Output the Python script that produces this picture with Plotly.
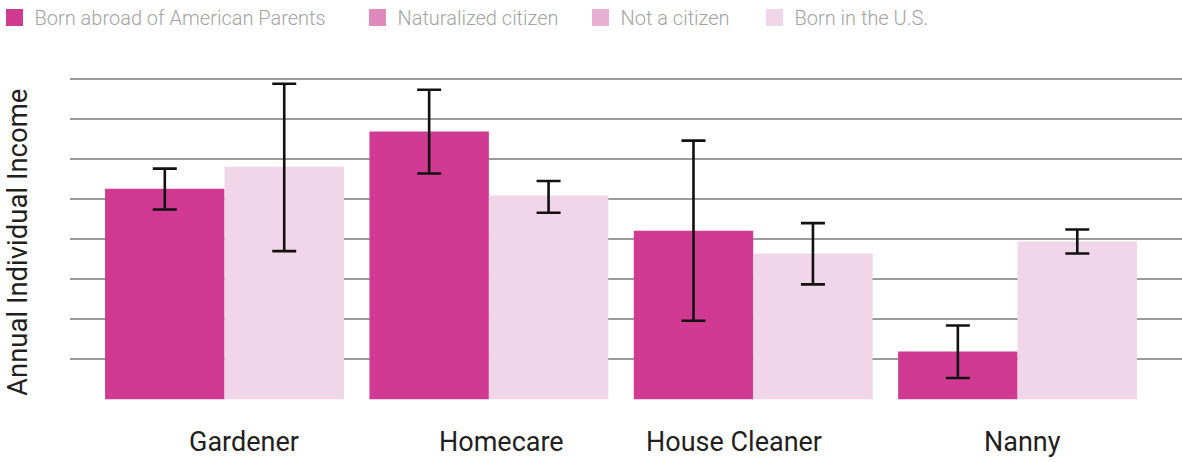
import plotly.graph_objects as go

# ---- data (y in chart units, no tick labels shown) ----
categories = ["Gardener", "Homecare", "House Cleaner", "Nanny"]

born_abroad = [5.26, 6.69, 4.21, 1.19]
born_abroad_hi = [5.76, 7.73, 6.46, 1.84]
born_abroad_lo = [4.74, 5.64, 1.96, 0.53]

born_us = [5.81, 5.09, 3.64, 3.94]
born_us_hi = [7.88, 5.45, 4.40, 4.24]
born_us_lo = [3.70, 4.66, 2.87, 3.64]

naturalized = [None, None, None, None]
not_citizen = [None, None, None, None]

series_names = ["Born abroad of American Parents", "Naturalized citizen",
                "Not a citizen", "Born in the U.S."]

# ---- style ----
colors = ["#D03A92", "#DE8BBC", "#E8B1D3", "#F0D6E8"]
FONT = "Roboto, 'Open Sans', sans-serif"
W, H = 1182, 462
L, R, T, B = 70, 0, 75, 62
PLOT_W = W - L - R
legend_px = [6, 369, 592, 766]   # left edge of each legend square (px)
legend_sym_off = 11.5
label_shift = [19.5, 12.5, -19, 4.5]
bar_w = 0.4518
bar_off_abroad = -0.4518
bar_off_us = 0.0

err_style = dict(type="data", color="#111111", thickness=2.6, width=12, symmetric=False)
legend_ids = ["legend", "legend2", "legend3", "legend4"]
groups = ["abroad", "naturalized", "notcitizen", "us"]

fig = go.Figure()

# data bars (legend entries come from the matching legend group below)
fig.add_trace(go.Bar(
    x=categories, y=born_abroad, name=series_names[0],
    marker=dict(color=colors[0], line=dict(width=0)),
    width=bar_w, offset=bar_off_abroad,
    error_y=dict(array=[h - v for h, v in zip(born_abroad_hi, born_abroad)],
                 arrayminus=[v - l for v, l in zip(born_abroad, born_abroad_lo)],
                 **err_style),
    legendgroup=groups[0], showlegend=False, legend=legend_ids[0],
))
fig.add_trace(go.Bar(
    x=categories, y=born_us, name=series_names[3],
    marker=dict(color=colors[3], line=dict(width=0)),
    width=bar_w, offset=bar_off_us,
    error_y=dict(array=[h - v for h, v in zip(born_us_hi, born_us)],
                 arrayminus=[v - l for v, l in zip(born_us, born_us_lo)],
                 **err_style),
    legendgroup=groups[3], showlegend=False, legend=legend_ids[3],
))

# legend entries (the two middle series have no values in the chart)
legend_values = [[None, None, None, None], naturalized, not_citizen, [None, None, None, None]]
for i in range(4):
    fig.add_trace(go.Bar(
        x=categories, y=legend_values[i], name=series_names[i],
        marker=dict(color=colors[i], line=dict(color=colors[i], width=5)),
        legendgroup=groups[i], legend=legend_ids[i], showlegend=True,
    ))

legend_common = dict(
    orientation="h", xanchor="left", yanchor="middle",
    y=1 + (T - 17.5) / (H - T - B),
    font=dict(family=FONT, size=20, color="#A3A3A3", weight=300),
    bgcolor="rgba(0,0,0,0)", borderwidth=0,
)
legend_layout = {}
for lid, px in zip(legend_ids, legend_px):
    legend_layout[lid] = dict(x=(px - legend_sym_off - L) / PLOT_W, **legend_common)

annotations = []
for cat, dx in zip(categories, label_shift):
    annotations.append(dict(
        x=cat, xref="x", y=0, yref="paper", yanchor="middle", xanchor="center",
        yshift=-42, xshift=dx, showarrow=False, text=cat,
        font=dict(family=FONT, size=27, color="#231F20"),
    ))
annotations.append(dict(
    x=(17 - L) / PLOT_W, xref="paper", y=(400 - 243) / (H - T - B), yref="paper",
    xanchor="center", yanchor="middle", textangle=-90, showarrow=False,
    text="Annual Individual Income",
    font=dict(family=FONT, size=27.5, color="#231F20"),
))

fig.update_layout(
    width=W, height=H,
    margin=dict(l=L, r=R, t=T, b=B, pad=0, autoexpand=False),
    paper_bgcolor="white", plot_bgcolor="white",
    barmode="overlay",
    showlegend=True,
    xaxis=dict(type="category", categoryorder="array", categoryarray=categories,
               range=[-0.5845, 3.622], showticklabels=False, showgrid=False,
               zeroline=False, showline=False, ticks=""),
    yaxis=dict(range=[-0.02, 8.1], tickvals=[0, 1, 2, 3, 4, 5, 6, 7, 8],
               showticklabels=False, showgrid=True, gridcolor="#9B9B9B",
               gridwidth=2, zeroline=False, showline=False, ticks=""),
    annotations=annotations,
    **legend_layout,
)

fig.write_html(
    "out.html",
    config={"displayModeBar": False},
    post_script="document.body.style.margin='0';document.body.style.overflow='hidden';",
)
